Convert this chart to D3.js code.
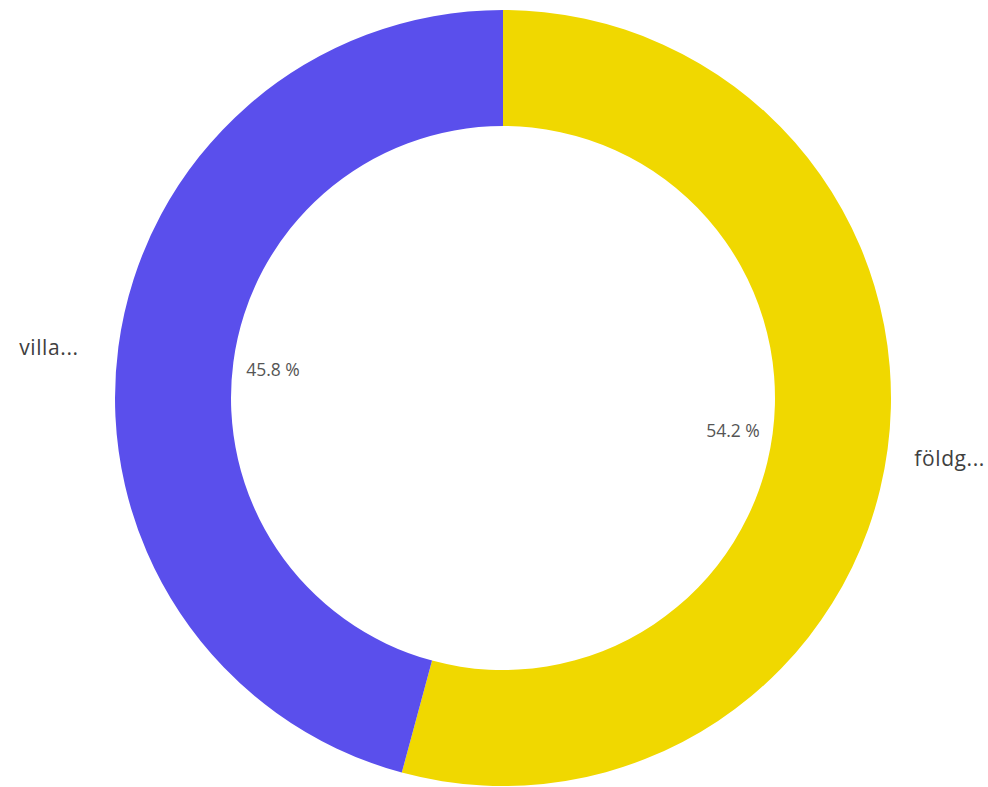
<!DOCTYPE html>
<html>
<head>
<meta charset="utf-8">
<script src="https://cdn.jsdelivr.net/npm/d3@7"></script>
<style>
  body { margin: 0; background: #fff; }
  text { font-family: "Open Sans", "Noto Sans", sans-serif; }
</style>
</head>
<body>
<div id="chart"></div>
<script>
var labels = ["földg...", "villa..."];
var values = [54.2, 45.8];
var colors = ["#F0D800", "#5A4FEC"];

var width = 988, height = 787;
var cx = 503, cy = 398;
var outerR = 388, innerR = 272;

var svg = d3.select("#chart").append("svg")
    .attr("width", width)
    .attr("height", height)
  .append("g")
    .attr("transform", "translate(" + cx + "," + cy + ")");

var pie = d3.pie().sort(null).value(function(d){ return d; });
var arcs = pie(values);

var arc = d3.arc().innerRadius(innerR).outerRadius(outerR);
var pctArc = d3.arc().innerRadius(232).outerRadius(232);
var lblArc = d3.arc().innerRadius(420).outerRadius(420);

function isRight(d) {
    return (d.startAngle + d.endAngle) / 2 < Math.PI;
}

svg.selectAll("path.slice")
    .data(arcs)
    .enter().append("path")
    .attr("class", "slice")
    .attr("fill", function(d, i){ return colors[i]; })
    .attr("d", arc);

svg.selectAll("text.pct")
    .data(arcs)
    .enter().append("text")
    .attr("class", "pct")
    .attr("transform", function(d){ return "translate(" + pctArc.centroid(d) + ")"; })
    .attr("dy", "0.5em")
    .attr("text-anchor", "middle")
    .style("font-size", "17.5px")
    .style("fill", "#555")
    .text(function(d){ return d.data.toFixed(1) + " %"; });

svg.selectAll("text.lbl")
    .data(arcs)
    .enter().append("text")
    .attr("class", "lbl")
    .attr("transform", function(d){
        var c = lblArc.centroid(d);
        var off = isRight(d) ? -5 : -8;
        return "translate(" + (c[0] + off) + "," + (c[1] + 5) + ")";
    })
    .attr("dy", "0.35em")
    .attr("text-anchor", function(d){ return isRight(d) ? "start" : "end"; })
    .style("font-size", "21px")
    .style("letter-spacing", "0.6px")
    .style("fill", "#404040")
    .text(function(d, i){ return labels[i]; });
</script>
</body>
</html>
